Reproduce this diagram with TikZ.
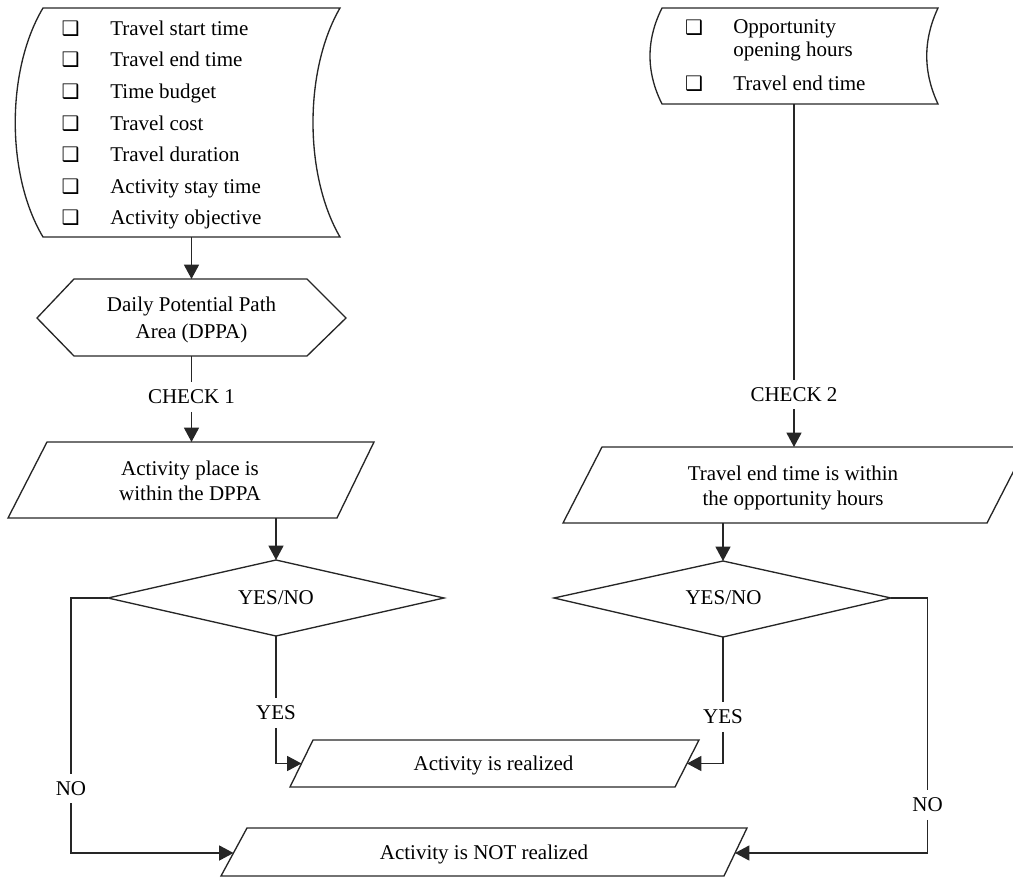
\documentclass[tikz,border=0pt]{standalone}
\usepackage{fontspec}
\setmainfont{Liberation Serif}
\newfontfamily\dvs{DejaVu Sans}
\usetikzlibrary{arrows.meta}
\begin{document}
\begin{tikzpicture}[x=0.6pt,y=-0.6pt,
  every node/.style={font=\fontsize{12.6}{15}\selectfont, inner sep=0pt, text=black},
  shapeline/.style={draw=black!85, line width=0.8pt, line join=miter},
  conn/.style={draw=black!85, line width=0.8pt},
  arr/.style={conn, -{Triangle[length=8.6pt,width=9pt]}},
  lbl/.style={inner sep=4.5pt, text height=8.3pt, text depth=0pt},
  one/.style={text height=8.3pt, text depth=0pt},
  two/.style={align=center},
  item/.style={anchor=base west},
  chkbox/.style={font=\dvs\fontsize{12}{12}\selectfont, anchor=base},
]
\useasboundingbox (0,0) rectangle (1013,877);

% ---------- left data store ----------
\draw[shapeline] (43,8) -- (340,8) .. controls (304,70) and (304,175) .. (340,237)
  -- (43,237) .. controls (6,175) and (6,70) .. cycle;
\coordinate (dataL) at (191.5,237);
\foreach \t [count=\i] in {Travel start time, Travel end time, Time budget, Travel cost,
  Travel duration, Activity stay time, Activity objective} {
  \node[item] (li\i) at (110,{35.3+31.6*(\i-1)}) {\t};
  \node[chkbox] (bi\i) at (70.5,{35.3+31.6*(\i-1)}) {❑};
}

% ---------- right data store ----------
\draw[shapeline] (662,8) -- (938,8) .. controls (923,40) and (923,72) .. (938,104)
  -- (662,104) .. controls (646,72) and (646,40) .. cycle;
\coordinate (dataR) at (794,104);
\node[anchor=north west, align=left, font=\fontsize{12.6}{13.8}\selectfont] (ri1) at (733,19.5) {Opportunity\\opening hours};
\node[item] (ri2) at (733,90) {Travel end time};
\node[chkbox] (rb1) at (694,34) {❑};
\node[chkbox] (rb2) at (694,90) {❑};

% ---------- hexagon ----------
\draw[shapeline] (37,318) -- (74,279) -- (307,279) -- (346,318) -- (307,356) -- (74,356) -- cycle;
\coordinate (hexT) at (191.5,279);
\coordinate (hexB) at (191.5,356);
\node[two, font=\fontsize{12.6}{16}\selectfont] (hex) at (191.5,320) {Daily Potential Path\\Area (DPPA)};
\draw[arr] (dataL) -- (hexT);

% ---------- check 1 ----------
\node[lbl] (chk1) at (191.5,397) {CHECK 1};
\coordinate (par1T) at (191.5,442);
\draw[conn] (hexB) -- (chk1.north);
\draw[arr] (chk1.south) -- (par1T);

% ---------- parallelogram 1 ----------
\draw[shapeline] (47,442) -- (374,442) -- (337,518) -- (8,518) -- cycle;
\node[two] (p1) at (190,480.4) {Activity place is\\within the DPPA};
\coordinate (par1B) at (276,518);

% ---------- diamond 1 ----------
\draw[shapeline] (276,560) -- (444,598) -- (276,636) -- (108,598) -- cycle;
\coordinate (d1T) at (276,560);
\coordinate (d1L) at (108,598);
\coordinate (d1B) at (276,636);
\node[one] (d1) at (276,598) {YES/NO};
\draw[arr] (par1B) -- (d1T);

% ---------- right branch: check 2 ----------
\node[lbl] (chk2) at (794,394.5) {CHECK 2};
\coordinate (par2T) at (794,447);
\draw[conn] (dataR) -- (chk2.north);
\draw[arr] (chk2.south) -- (par2T);

% ---------- parallelogram 2 ----------
\draw[shapeline] (602,447) -- (1026,447) -- (987,523) -- (563,523) -- cycle;
\node[two] (p2) at (793,487.6) {Travel end time is within\\the opportunity hours};
\coordinate (par2B) at (723,523);

% ---------- diamond 2 ----------
\draw[shapeline] (723,561) -- (891,598) -- (723,637) -- (554,598) -- cycle;
\coordinate (d2T) at (723,561);
\coordinate (d2R) at (891,598);
\coordinate (d2B) at (723,637);
\node[one] (d2) at (723.5,598) {YES/NO};
\draw[arr] (par2B) -- (d2T);

% ---------- realized ----------
\draw[shapeline] (313,740) -- (699,740) -- (675,787) -- (290,787) -- cycle;
\node[one] (real) at (493.5,763.5) {Activity is realized};
\coordinate (realL) at (301.5,763.5);
\coordinate (realR) at (687,763.5);

% ---------- not realized ----------
\draw[shapeline] (247,828) -- (747,828) -- (724,876) -- (221,876) -- cycle;
\node[one] (notr) at (484,853) {Activity is NOT realized};
\coordinate (notL) at (233.5,853);
\coordinate (notR) at (735,853);

% ---------- YES connectors ----------
\node[lbl] (yes1) at (276,713) {YES};
\coordinate (y1c) at (276,763.5);
\draw[conn] (d1B) -- (yes1.north);
\draw[arr] (yes1.south) -- (y1c) -- (realL);

\node[lbl] (yes2) at (723,717) {YES};
\coordinate (y2c) at (723,763.5);
\draw[conn] (d2B) -- (yes2.north);
\draw[arr] (yes2.south) -- (y2c) -- (realR);

% ---------- NO connectors ----------
\node[lbl] (no1) at (71,788.5) {NO};
\coordinate (n1a) at (71,598);
\coordinate (n1b) at (71,853);
\draw[conn] (d1L) -- (n1a) -- (no1.north);
\draw[arr] (no1.south) -- (n1b) -- (notL);

\node[lbl] (no2) at (927.5,805) {NO};
\coordinate (n2a) at (927.5,598);
\coordinate (n2b) at (927.5,853);
\draw[conn] (d2R) -- (n2a) -- (no2.north);
\draw[arr] (no2.south) -- (n2b) -- (notR);
\end{tikzpicture}
\end{document}
